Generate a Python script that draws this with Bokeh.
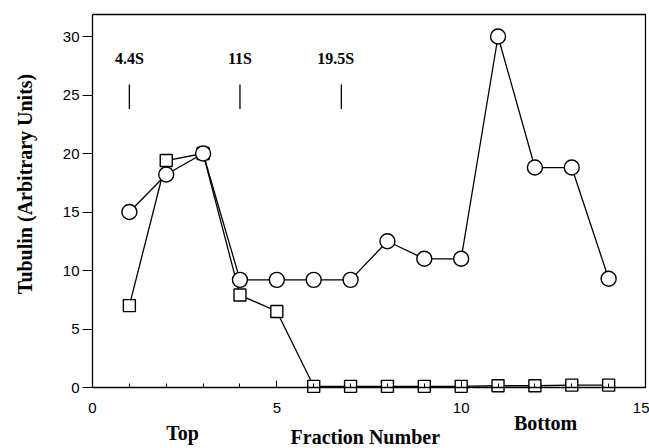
import math
from bokeh.plotting import figure
from bokeh.models import Range1d, Label, FixedTicker, LinearAxis
from bokeh.embed import file_html
from bokeh.resources import INLINE

# ---- data ----
fractions = [1, 2, 3, 4, 5, 6, 7, 8, 9, 10, 11, 12, 13, 14]
circle_vals = [15.0, 18.2, 20.0, 9.2, 9.2, 9.2, 9.2, 12.5, 11.0, 11.0, 30.0, 18.8, 18.8, 9.3]
square_vals = [7.0, 19.4, 20.0, 7.9, 6.5, 0.1, 0.1, 0.1, 0.1, 0.1, 0.15, 0.15, 0.2, 0.2]
marker_names = ["4.4S", "11S", "19.5S"]
marker_pos = [1.0, 4.0, 6.75]
marker_text_pos = [1.0, 4.0, 6.6]
x_ticks = [0, 5, 10, 15]
x_minor_ticks = list(range(0, 16))
y_ticks = [0, 5, 10, 15, 20, 25, 30]

# frame geometry (data units)
X_MAX = 15.0
Y_TOP = 31.88

W, H = 649, 448
PX_X = (645 - 92) / 15.0     # pixels per x unit
PX_Y = (387 - 36) / 30.0     # pixels per y unit
x_start = -92 / PX_X
x_end = x_start + W / PX_X
y_end = 387 / PX_Y
y_start = y_end - H / PX_Y

p = figure(width=W, height=H, output_backend="svg", toolbar_location=None,
           x_range=Range1d(x_start, x_end), y_range=Range1d(y_start, y_end),
           x_axis_location=None, y_axis_location=None,
           min_border_left=0, min_border_right=0, min_border_top=0, min_border_bottom=0)
p.outline_line_color = None
p.grid.visible = False
p.background_fill_color = "white"
p.border_fill_color = "white"

SANS = "Liberation Sans"
SERIF = "Liberation Serif"

# y axis
ya = LinearAxis(fixed_location=0, ticker=FixedTicker(ticks=y_ticks), bounds=(0, Y_TOP))
ya.major_tick_out = 10
ya.major_tick_in = 0
ya.minor_tick_out = 0
ya.minor_tick_in = 0
ya.major_label_standoff = 3
ya.major_label_text_font = SANS
ya.major_label_text_font_size = "15px"
ya.major_label_text_color = "black"
ya.axis_line_color = "black"
ya.axis_line_width = 1.3
ya.major_tick_line_color = "black"
ya.major_tick_line_width = 1.1
p.add_layout(ya, "left")

# x axis
xa = LinearAxis(fixed_location=0, ticker=FixedTicker(ticks=x_ticks, minor_ticks=x_minor_ticks),
                bounds=(0, X_MAX))
xa.major_tick_in = 7
xa.major_tick_out = 0
xa.minor_tick_in = 4
xa.minor_tick_out = 0
xa.major_label_standoff = 15
xa.major_label_text_font = SANS
xa.major_label_text_font_size = "15px"
xa.major_label_text_color = "black"
xa.axis_line_color = "black"
xa.axis_line_width = 1.5
xa.major_tick_line_color = "black"
xa.minor_tick_line_color = "black"
p.add_layout(xa, "below")

# frame top & right
p.line(x=[0, X_MAX, X_MAX], y=[Y_TOP, Y_TOP, 0], line_color="black", line_width=1.3)

# series
p.line(fractions, circle_vals, line_color="black", line_width=1.3)
p.line(fractions, square_vals, line_color="black", line_width=1.3)
p.scatter(fractions, square_vals, marker="square", size=12, fill_color="white",
          line_color="black", line_width=1.4)
p.scatter(fractions, circle_vals, marker="circle", size=15, fill_color="white",
          line_color="black", line_width=1.4)

# sedimentation markers
p.segment(x0=marker_pos, y0=[23.8] * 3, x1=marker_pos, y1=[25.9] * 3,
          line_color="black", line_width=1.3)
for name, xp in zip(marker_names, marker_text_pos):
    p.add_layout(Label(x=xp, y=28.1, text=name, text_align="center", text_baseline="middle",
                       text_font=SERIF, text_font_style="bold", text_font_size="16px",
                       text_color="black"))

# axis texts
p.add_layout(Label(x=-1.84, y=17.4, text="Tubulin (Arbitrary Units)", angle=math.pi / 2,
                   text_align="center", text_baseline="middle", text_font=SERIF,
                   text_font_style="bold", text_font_size="20px", text_color="black"))
p.add_layout(Label(x=7.4, y=-4.2, text="Fraction Number", text_align="center",
                   text_baseline="middle", text_font=SERIF, text_font_style="bold",
                   text_font_size="20px", text_color="black"))
p.add_layout(Label(x=2.44, y=-3.9, text="Top", text_align="center",
                   text_baseline="middle", text_font=SERIF, text_font_style="bold",
                   text_font_size="20px", text_color="black"))
p.add_layout(Label(x=12.29, y=-3.0, text="Bottom", text_align="center",
                   text_baseline="middle", text_font=SERIF, text_font_style="bold",
                   text_font_size="20px", text_color="black"))

open("out.html", "w").write(file_html(p, INLINE))
